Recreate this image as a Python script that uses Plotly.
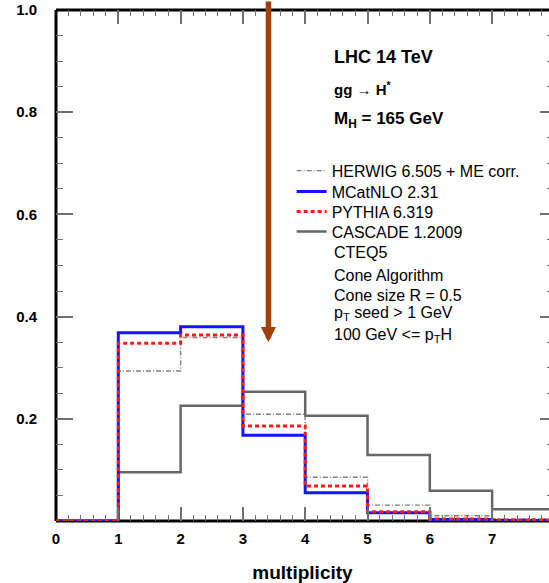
import plotly.graph_objects as go

# ---- data ----
bin_edges = [0, 1, 2, 3, 4, 5, 6, 7, 8]
herwig = [0.0, 0.2935, 0.359, 0.209, 0.0855, 0.031, 0.0104, 0.004]
mcatnlo = [0.0, 0.3685, 0.380, 0.168, 0.0554, 0.016, 0.003, 0.001]
pythia = [0.0, 0.348, 0.364, 0.186, 0.0685, 0.018, 0.004, 0.002]
cascade = [0.0, 0.0953, 0.2257, 0.253, 0.206, 0.129, 0.0593, 0.0229]

series_names = ["HERWIG 6.505 + ME corr.", "MCatNLO 2.31", "PYTHIA 6.319", "CASCADE 1.2009"]
extra_lines = ["CTEQ5", "Cone Algorithm", "Cone size R = 0.5",
               "p<sub>T</sub> seed &gt; 1 GeV", "100 GeV &lt;= p<sub>T</sub>H"]
y_tickvals = [0, 0.2, 0.4, 0.6, 0.8, 1.0]
y_ticktext = ["", "0.2", "0.4", "0.6", "0.8", "1.0"]
x_tickvals = [0, 1, 2, 3, 4, 5, 6, 7, 8]
x_ticktext = ["0", "1", "2", "3", "4", "5", "6", "7", "8"]
arrow_x = 3.41
arrow_tip = 0.35

FONT = "Liberation Sans, Arial, sans-serif"
X_MAX = 7.913

def steps(vals):
    return vals + [vals[-1]]

fig = go.Figure()
styles = [
    (herwig, series_names[0], dict(color="#808080", width=1.4, dash="5px,2px,1px,2px")),
    (mcatnlo, series_names[1], dict(color="#1414ff", width=3)),
    (pythia, series_names[2], dict(color="#ff1a1a", width=3, dash="4px,3px")),
    (cascade, series_names[3], dict(color="#666666", width=2.5)),
]
legend_ids = ["legend", "legend2", "legend3", "legend4"]
legend_y = [0.6855, 0.6444, 0.6053, 0.5661]
order = [3, 0, 1, 2]
for i in order:
    vals, name, line = styles[i]
    fig.add_trace(go.Scatter(x=bin_edges, y=steps(vals), mode="lines", line_shape="hv",
                             name=name, line=line, legend=legend_ids[i], hoverinfo="skip"))

# dummy trace for right-hand tick axis
fig.add_trace(go.Scatter(x=[0], y=[0], yaxis="y2", mode="lines", line=dict(width=0),
                         showlegend=False, hoverinfo="skip"))

legend_common = dict(x=0.478, xanchor="left", yanchor="middle",
                     font=dict(size=16, family=FONT, color="black"),
                     bgcolor="rgba(0,0,0,0)", borderwidth=0, itemwidth=30)
legends = {lid: dict(legend_common, y=ly) for lid, ly in zip(legend_ids, legend_y)}

fig.update_layout(
    width=549, height=583,
    margin=dict(l=56, r=0, t=10, b=62),
    paper_bgcolor="white", plot_bgcolor="white",
    font=dict(family=FONT, color="black"),
    showlegend=True,
    **legends,
    xaxis=dict(range=[0, X_MAX], showline=False, showgrid=False, zeroline=False,
               ticks="inside", ticklen=14, tickwidth=1.5, tickcolor="#707070",
               tickvals=x_tickvals, ticktext=x_ticktext, mirror="ticks",
               tickfont=dict(size=15, family=FONT, color="black", weight="bold"),
               ticklabelstandoff=7,
               minor=dict(dtick=0.2, ticks="inside", ticklen=6, tickwidth=1.2, tickcolor="#707070"),
               title=dict(text="<b>multiplicity</b>", font=dict(size=19, family=FONT), standoff=19)),
    yaxis=dict(range=[0, 1.0], showline=False, showgrid=False, zeroline=False,
               ticks="inside", ticklen=17, tickwidth=1.5, tickcolor="#707070",
               tickvals=y_tickvals, ticktext=y_ticktext,
               tickfont=dict(size=15, family=FONT, color="black", weight="bold"),
               ticklabelstandoff=18,
               minor=dict(dtick=0.05, ticks="inside", ticklen=7, tickwidth=1.2, tickcolor="#707070")),
    yaxis2=dict(range=[0, 1.0], overlaying="y", side="right", anchor="x",
                showline=False, showgrid=False, zeroline=False, showticklabels=False,
                ticks="inside", ticklen=9, tickwidth=1.5, tickcolor="#707070",
                tickvals=y_tickvals,
                minor=dict(dtick=0.05, ticks="inside", ticklen=2, tickwidth=1.2, tickcolor="#707070")),
)

# frame lines (left, bottom, top)
for x0, y0, x1, y1 in [(0, 0, 0, 1), (0, 0, 1, 0), (0, 1, 1, 1)]:
    fig.add_shape(type="line", xref="paper", yref="paper", x0=x0, y0=y0, x1=x1, y1=y1,
                  line=dict(color="black", width=3), layer="below")

# header texts
hdr = [("<b>LHC 14 TeV</b>", 0.908, 18), ("<b>gg → H<sup>*</sup></b>", 0.846, 15),
       ("<b>M<sub>H</sub> = 165 GeV</b>", 0.785, 17)]
for txt, yy, fs in hdr:
    fig.add_annotation(x=4.43, y=yy, xref="x", yref="y", text=txt, showarrow=False,
                       xanchor="left", yanchor="middle", font=dict(size=fs, family=FONT, color="black"))

# extra legend text lines
extra_y = [0.526, 0.481, 0.442, 0.407, 0.364]
for txt, yy in zip(extra_lines, extra_y):
    fig.add_annotation(x=4.43, y=yy, xref="x", yref="y", text=txt, showarrow=False,
                       xanchor="left", yanchor="middle", font=dict(size=16, family=FONT, color="black"))

# brown arrow
fig.add_annotation(x=arrow_x, y=arrow_tip, xref="x", yref="y", ax=0, ay=-350,
                   axref="pixel", ayref="pixel", text="", showarrow=True,
                   arrowhead=2, arrowwidth=5.5, arrowsize=0.55, arrowcolor="#a0400c",
                   standoff=0)

fig.write_html("out.html")
